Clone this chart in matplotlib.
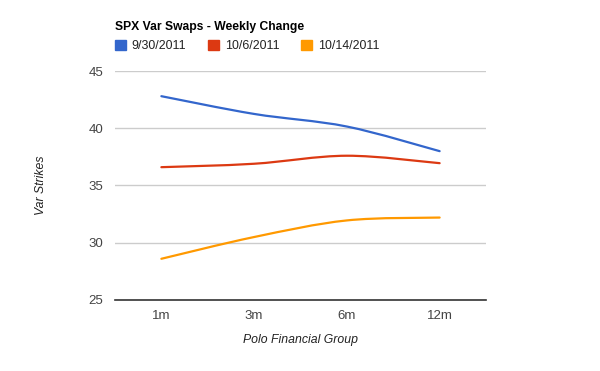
import matplotlib
matplotlib.use("Agg")
import matplotlib.pyplot as plt
from matplotlib.path import Path
from matplotlib.patches import PathPatch, Patch
import numpy as np

plt.rcParams['font.family'] = ['Liberation Sans', 'DejaVu Sans']

tenors = ['1m', '3m', '6m', '12m']
series_names = ['9/30/2011', '10/6/2011', '10/14/2011']
sep30 = [42.8, 41.25, 40.15, 38.0]
oct6 = [36.6, 36.9, 37.6, 36.95]
oct14 = [28.6, 30.5, 31.95, 32.2]
colors = ['#3366cc', '#dc3912', '#ff9900']


def smooth_path(xs, ys, t=1.0 / 6):
    # catmull-rom style bezier through the points
    pts = np.column_stack([xs, ys]).astype(float)
    n = len(pts)
    verts = [pts[0]]
    codes = [Path.MOVETO]
    for i in range(n - 1):
        p0 = pts[i - 1] if i > 0 else pts[i]
        p3 = pts[i + 2] if i + 2 < n else pts[i + 1]
        c1 = pts[i] + (pts[i + 1] - p0) * t
        c2 = pts[i + 1] - (p3 - pts[i]) * t
        verts += [c1, c2, pts[i + 1]]
        codes += [Path.CURVE4] * 3
    return Path(verts, codes)


fig = plt.figure(figsize=(6, 3.71), dpi=100)
ax = fig.add_axes([115 / 600, 1 - 300 / 371, 371 / 600, 229 / 371])

x = np.arange(len(tenors))
for vals, c in zip([sep30, oct6, oct14], colors):
    ax.add_patch(PathPatch(smooth_path(x, vals), fill=False, edgecolor=c, lw=1.6,
                           capstyle='round', joinstyle='round'))

ax.set_xlim(-0.5, 3.5)
ax.set_ylim(25, 45)
ax.set_yticks([25, 30, 35, 40, 45])
ax.set_xticks(x)
ax.set_xticklabels(tenors)
ax.grid(axis='y', color='#cccccc', lw=1)
ax.set_axisbelow(True)
for s in ['top', 'left', 'right']:
    ax.spines[s].set_visible(False)
ax.spines['bottom'].set_color('#333333')
ax.spines['bottom'].set_linewidth(1.2)
ax.tick_params(length=0, labelsize=9.5, colors='#444444')
ax.tick_params(axis='y', pad=8.5)
ax.tick_params(axis='x', pad=7)

ax.set_ylabel('Var Strikes', style='italic', fontsize=8.8, color='#222222', labelpad=30)
ax.set_xlabel('Polo Financial Group', style='italic', fontsize=8.8, color='#222222', labelpad=9)

fig.text(115 / 600, 1 - 27 / 371, 'SPX Var Swaps - Weekly Change', fontsize=8.7,
         fontweight='bold', va='center', color='#000000')

handles = [Patch(facecolor=c, edgecolor=c) for c in colors]
leg = fig.legend(handles, series_names, loc='center left', bbox_to_anchor=(115 / 600, 1 - 46 / 371),
                 ncol=3, frameon=False, fontsize=8.9, handlelength=0.9, handleheight=0.9,
                 handletextpad=0.45, columnspacing=1.75, borderaxespad=0, borderpad=0)
for t in leg.get_texts():
    t.set_color('#222222')

fig.savefig('out.png', dpi=100)
